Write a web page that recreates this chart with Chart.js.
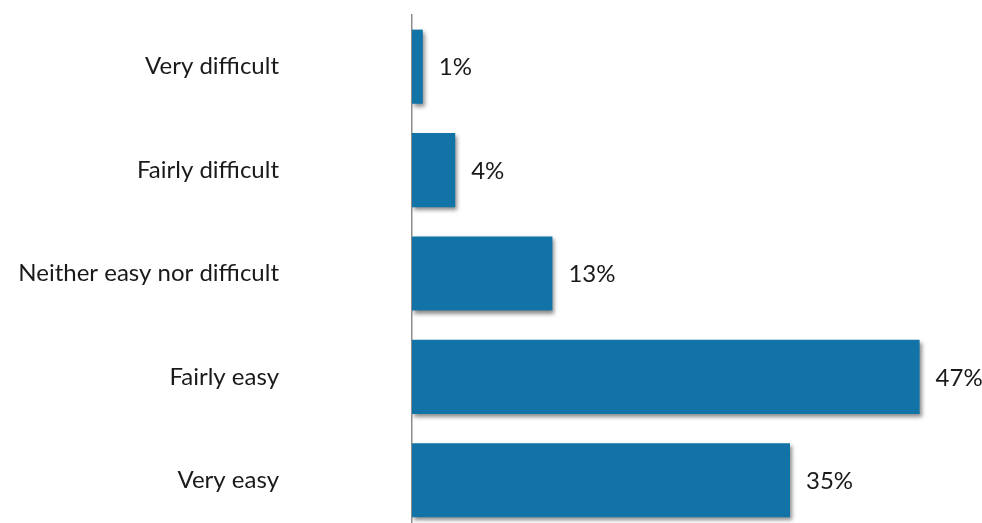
<!DOCTYPE html>
<html>
<head>
<meta charset="utf-8">
<script src="https://cdn.jsdelivr.net/npm/chart.js@4"></script>
<style>
  html, body { margin: 0; padding: 0; background: #fff; overflow: hidden; }
  #wrap { position: relative; width: 982px; height: 532px; }
</style>
</head>
<body>
<div id="wrap"><canvas id="c"></canvas></div>
<script>
const categories = ['Very difficult', 'Fairly difficult', 'Neither easy nor difficult', 'Fairly easy', 'Very easy'];
const shares = [1, 4, 13, 47, 35];
const valueLabels = ['1%', '4%', '13%', '47%', '35%'];

const FONT = 'Lato, "Open Sans", sans-serif';

// soft drop shadow under the bars
const barShadow = {
  id: 'barShadow',
  beforeDatasetsDraw(chart) {
    const ctx = chart.ctx;
    ctx.save();
    ctx.shadowColor = 'rgba(0,0,0,0.45)';
    ctx.shadowBlur = 4;
    ctx.shadowOffsetX = 2;
    ctx.shadowOffsetY = 3;
  },
  afterDatasetsDraw(chart) {
    chart.ctx.restore();
  }
};

// percentage text to the right of each bar
const valueText = {
  id: 'valueText',
  afterDatasetsDraw(chart) {
    const ctx = chart.ctx;
    const meta = chart.getDatasetMeta(0);
    ctx.save();
    ctx.font = '24px ' + FONT;
    ctx.fillStyle = '#1a1a1a';
    ctx.textAlign = 'left';
    ctx.textBaseline = 'middle';
    meta.data.forEach((bar, i) => {
      ctx.fillText(valueLabels[i], bar.x + 16, bar.y + 1);
    });
    ctx.restore();
  }
};

new Chart(document.getElementById('c'), {
  type: 'bar',
  data: {
    labels: categories,
    datasets: [{
      data: shares,
      backgroundColor: '#1273a6',
      borderWidth: 0,
      categoryPercentage: 1,
      barPercentage: 0.717
    }]
  },
  options: {
    indexAxis: 'y',
    responsive: true,
    maintainAspectRatio: false,
    animation: false,
    layout: { padding: { top: 15, right: 30, bottom: 0, left: 0 } },
    plugins: { legend: { display: false }, tooltip: { enabled: false } },
    scales: {
      x: {
        min: 0,
        max: 50,
        display: false
      },
      y: {
        grid: { display: false, drawTicks: false },
        border: { display: true, color: '#8c8c8c', width: 1.5 },
        ticks: {
          padding: 133,
          color: '#1a1a1a',
          font: { family: FONT, size: 24 }
        },
        afterFit(scale) {
          scale.width = 412;
          scale.paddingTop = 0;
          scale.paddingBottom = 0;
        }
      }
    }
  },
  plugins: [barShadow, valueText]
});
</script>
</body>
</html>
